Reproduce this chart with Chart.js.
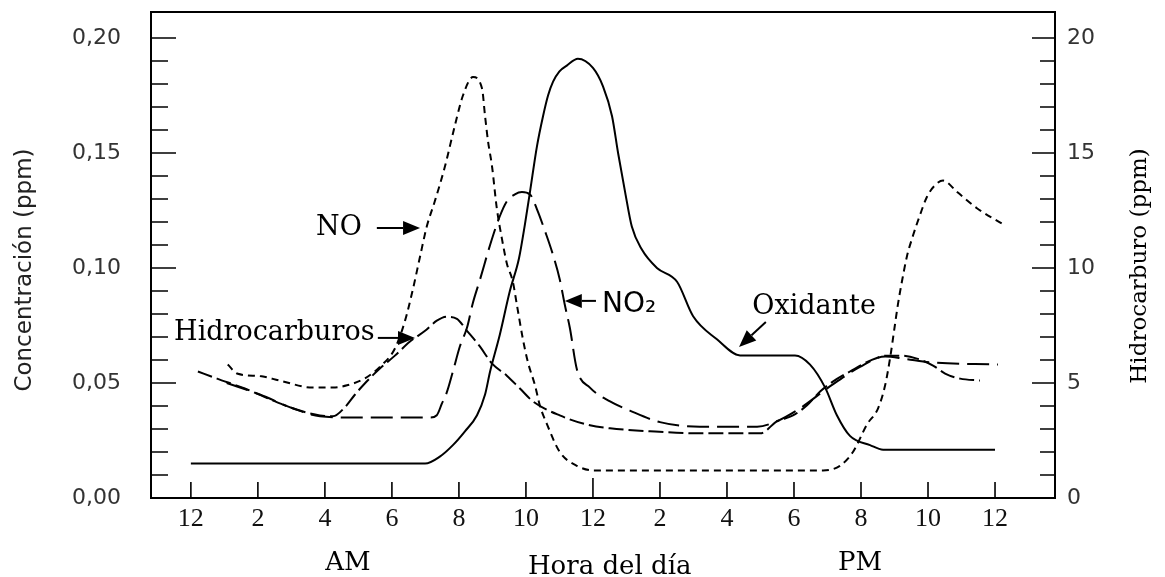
<!DOCTYPE html>
<html>
<head>
<meta charset="utf-8">
<script src="https://cdn.jsdelivr.net/npm/chart.js@4.4.0/dist/chart.umd.min.js"></script>
<style>
  html, body { margin: 0; padding: 0; background: #fff; }
  #wrap { width: 1165px; height: 577px; }
</style>
</head>
<body>
<div id="wrap"><canvas id="smogChart"></canvas></div>
<script>
// x = hours after midnight (0 = 12 AM, 24 = 12 midnight next day)
const xTickLabels = ['12', '2', '4', '6', '8', '10', '12', '2', '4', '6', '8', '10', '12'];

// Oxidante (ppm, left axis)
const oxHours  = [0, 6.99, 7.43, 7.82, 8.18, 8.54, 8.78, 8.93, 9.22, 9.52, 9.79, 9.97, 10.12, 10.33, 10.51, 10.66, 10.81, 11.00, 11.22, 11.55, 12.00, 12.30, 12.57, 12.75, 12.96, 13.16, 13.46, 13.91, 14.51, 14.99, 15.70, 16.39, 18.03, 18.48, 18.93, 19.28, 19.67, 20.27, 20.66, 24.00];
const oxValues = [0.015, 0.015, 0.018, 0.023, 0.029, 0.036, 0.045, 0.055, 0.071, 0.090, 0.104, 0.119, 0.133, 0.153, 0.166, 0.175, 0.181, 0.1855, 0.188, 0.191, 0.187, 0.179, 0.166, 0.150, 0.133, 0.118, 0.108, 0.100, 0.094, 0.079, 0.069, 0.062, 0.062, 0.058, 0.048, 0.036, 0.027, 0.023, 0.021, 0.021];

// NO (ppm, left axis)
const noHours  = [1.10, 1.40, 2.06, 2.66, 3.64, 4.24, 4.66, 5.19, 5.64, 6.09, 6.39, 6.63, 6.84, 7.04, 7.28, 7.58, 7.88, 8.12, 8.42, 8.69, 8.78, 8.87, 8.99, 9.13, 9.28, 9.43, 9.61, 9.73, 9.91, 10.06, 10.27, 10.42, 10.63, 11.01, 11.52, 12.00, 18.87, 19.37, 19.76, 20.18, 20.51, 20.72, 20.87, 21.01, 21.10, 21.22, 21.37, 21.55, 21.76, 21.97, 22.21, 22.45, 22.87, 23.46, 24.24];
const noValues = [0.058, 0.054, 0.053, 0.051, 0.048, 0.048, 0.049, 0.052, 0.057, 0.065, 0.077, 0.091, 0.105, 0.118, 0.129, 0.144, 0.162, 0.175, 0.183, 0.178, 0.166, 0.155, 0.144, 0.126, 0.113, 0.102, 0.094, 0.084, 0.069, 0.059, 0.049, 0.040, 0.032, 0.020, 0.014, 0.012, 0.012, 0.014, 0.020, 0.032, 0.039, 0.049, 0.061, 0.075, 0.084, 0.094, 0.105, 0.114, 0.123, 0.131, 0.136, 0.138, 0.133, 0.126, 0.119];

// NO2 (ppm, left axis)
const no2Hours  = [1.07, 2.06, 3.04, 3.85, 4.75, 6.24, 7.13, 7.34, 7.49, 7.64, 7.82, 8.03, 8.24, 8.42, 8.63, 8.93, 9.22, 9.43, 9.67, 9.88, 10.12, 10.33, 10.57, 10.78, 11.01, 11.16, 11.31, 11.52, 11.91, 12.51, 13.10, 14.00, 15.19, 16.90, 17.43, 18.18, 19.07, 19.97, 20.72, 21.31, 22.06, 24.09];
const no2Values = [0.050, 0.045, 0.039, 0.0355, 0.035, 0.035, 0.035, 0.036, 0.041, 0.046, 0.055, 0.066, 0.074, 0.085, 0.095, 0.110, 0.1225, 0.129, 0.132, 0.133, 0.132, 0.1255, 0.116, 0.107, 0.095, 0.084, 0.074, 0.056, 0.048, 0.042, 0.038, 0.033, 0.031, 0.031, 0.033, 0.039, 0.0485, 0.057, 0.0615, 0.0605, 0.059, 0.058];

// Hidrocarburos (ppm, right axis)
const hcHours  = [0.21, 0.78, 1.61, 2.30, 3.04, 3.85, 4.24, 4.60, 4.90, 5.19, 5.64, 6.09, 6.54, 6.99, 7.34, 7.64, 7.94, 8.24, 8.63, 8.99, 9.43, 9.82, 10.21, 11.01, 11.91, 12.51, 13.70, 15.19, 16.99, 17.49, 17.97, 18.39, 18.78, 19.16, 19.67, 20.27, 20.78, 21.16, 21.67, 22.15, 22.51, 22.96, 23.55];
const hcValues = [5.50, 5.19, 4.76, 4.33, 3.90, 3.59, 3.55, 3.95, 4.50, 4.98, 5.63, 6.19, 6.80, 7.27, 7.71, 7.88, 7.79, 7.27, 6.58, 5.84, 5.32, 4.76, 4.20, 3.59, 3.16, 3.03, 2.90, 2.81, 2.81, 3.33, 3.59, 4.03, 4.63, 5.06, 5.50, 5.97, 6.19, 6.19, 6.06, 5.76, 5.41, 5.19, 5.11];

function toPoints(xs, ys) {
  return xs.map((h, i) => ({ x: h, y: ys[i] }));
}

function isMultiple(v, step) {
  return Math.abs(v / step - Math.round(v / step)) < 1e-6;
}

function drawArrow(ctx, x1, y1, x2, y2) {
  const ang = Math.atan2(y2 - y1, x2 - x1);
  const head = 17, half = 7;
  const bx = x2 - head * Math.cos(ang), by = y2 - head * Math.sin(ang);
  ctx.beginPath();
  ctx.moveTo(x1, y1);
  ctx.lineTo(bx, by);
  ctx.stroke();
  ctx.beginPath();
  ctx.moveTo(x2, y2);
  ctx.lineTo(bx + half * Math.sin(ang), by - half * Math.cos(ang));
  ctx.lineTo(bx - half * Math.sin(ang), by + half * Math.cos(ang));
  ctx.closePath();
  ctx.fill();
}

// frame and inward tick marks
const frameTicks = {
  id: 'frameTicks',
  afterDraw(chart) {
    const ctx = chart.ctx;
    const a = chart.chartArea;
    const { x, y, y1 } = chart.scales;
    ctx.save();
    ctx.strokeStyle = '#000';
    ctx.lineWidth = 2;
    ctx.strokeRect(a.left, a.top, a.right - a.left, a.bottom - a.top);
    ctx.lineWidth = 1.6;
    ctx.beginPath();
    y.ticks.forEach(t => {
      const p = y.getPixelForValue(t.value);
      if (p < a.top + 5 || p > a.bottom - 2) return;
      ctx.moveTo(a.left, p);
      ctx.lineTo(a.left + (isMultiple(t.value, 0.05) ? 25 : 17), p);
    });
    y1.ticks.forEach(t => {
      const p = y1.getPixelForValue(t.value);
      if (p < a.top + 5 || p > a.bottom - 2) return;
      ctx.moveTo(a.right, p);
      ctx.lineTo(a.right - (isMultiple(t.value, 5) ? 23 : 15), p);
    });
    x.ticks.forEach(t => {
      const p = x.getPixelForValue(t.value);
      ctx.moveTo(p, a.bottom);
      ctx.lineTo(p, a.bottom - (t.value === 12 ? 20 : 16));
    });
    ctx.stroke();
    ctx.restore();
  }
};

// text notes, arrows and axis captions
const notes = {
  id: 'notes',
  afterDraw(chart) {
    const ctx = chart.ctx;
    const a = chart.chartArea;
    const { x, y } = chart.scales;
    const px = h => x.getPixelForValue(h);
    const py = v => y.getPixelForValue(v);
    ctx.save();
    ctx.fillStyle = '#000';
    ctx.strokeStyle = '#000';
    ctx.lineWidth = 2;
    ctx.textBaseline = 'middle';

    ctx.font = '27px "DejaVu Serif"';
    ctx.textAlign = 'center';
    ctx.fillText('NO', px(4.42), py(0.1174));
    drawArrow(ctx, px(5.55), py(0.1174), px(6.84), py(0.1174));
    ctx.fillText('Hidrocarburos', px(2.49), py(0.0717));
    drawArrow(ctx, px(5.58), py(0.0696), px(6.69), py(0.0696));
    ctx.fillText('Oxidante', px(18.6), py(0.083));
    drawArrow(ctx, px(17.16), py(0.0765), px(16.36), py(0.0657));

    ctx.font = '28px "DejaVu Sans"';
    ctx.textAlign = 'left';
    ctx.fillText('NO₂', px(12.27), py(0.0839));
    drawArrow(ctx, px(12.09), py(0.0857), px(11.16), py(0.0857));

    ctx.font = '26px "DejaVu Serif"';
    ctx.textAlign = 'center';
    ctx.fillText('AM', px(4.69), a.bottom + 65);
    ctx.fillText('Hora del día', px(12.5), a.bottom + 69);
    ctx.fillText('PM', px(19.97), a.bottom + 65);

    // axis titles, both reading bottom to top
    ctx.save();
    ctx.translate(25, (a.top + a.bottom) / 2 + 15);
    ctx.rotate(-Math.PI / 2);
    ctx.font = '23px "DejaVu Sans"';
    ctx.fillStyle = '#222';
    ctx.fillText('Concentración (ppm)', 0, 0);
    ctx.restore();

    ctx.save();
    ctx.translate(1140, (a.top + a.bottom) / 2 + 11);
    ctx.rotate(-Math.PI / 2);
    ctx.font = '23px "DejaVu Serif"';
    ctx.fillText('Hidrocarburo (ppm)', 0, 0);
    ctx.restore();

    ctx.restore();
  }
};

const lineStyle = {
  borderColor: '#000',
  borderWidth: 2,
  pointRadius: 0,
  fill: false,
  cubicInterpolationMode: 'monotone'
};

function fixVertical(width) {
  return s => { s.width = width; s.paddingTop = 0; s.paddingBottom = 0; };
}

new Chart(document.getElementById('smogChart'), {
  type: 'line',
  data: {
    datasets: [
      { ...lineStyle, label: 'Oxidante', data: toPoints(oxHours, oxValues), yAxisID: 'y' },
      { ...lineStyle, label: 'NO', data: toPoints(noHours, noValues), yAxisID: 'y', borderDash: [7, 5] },
      { ...lineStyle, label: 'NO2', data: toPoints(no2Hours, no2Values), yAxisID: 'y', borderDash: [22, 8] },
      { ...lineStyle, label: 'Hidrocarburos', data: toPoints(hcHours, hcValues), yAxisID: 'y1', borderDash: [15, 5] }
    ]
  },
  options: {
    responsive: true,
    maintainAspectRatio: false,
    animation: false,
    layout: { padding: { top: 12 } },
    plugins: {
      legend: { display: false },
      tooltip: { enabled: false }
    },
    scales: {
      x: {
        type: 'linear',
        min: -1.19,
        max: 25.79,
        grid: { display: false },
        border: { display: false },
        ticks: {
          stepSize: 2,
          includeBounds: false,
          autoSkip: false,
          maxRotation: 0,
          padding: -2,
          color: '#111',
          font: { family: 'Liberation Serif', size: 26 },
          callback: v => xTickLabels[Math.round(v / 2)]
        },
        afterFit: s => { s.height = 79; s.paddingLeft = 0; s.paddingRight = 0; }
      },
      y: {
        position: 'left',
        min: 0,
        max: 0.2113,
        grid: { display: false },
        border: { display: false },
        ticks: {
          stepSize: 0.01,
          includeBounds: false,
          autoSkip: false,
          padding: 22,
          color: '#333',
          font: { family: 'DejaVu Sans', size: 22 },
          callback: v => isMultiple(v, 0.05) ? v.toFixed(2).replace('.', ',') : ''
        },
        afterFit: fixVertical(151)
      },
      y1: {
        position: 'right',
        min: 0,
        max: 21.13,
        grid: { display: false },
        border: { display: false },
        ticks: {
          stepSize: 1,
          includeBounds: false,
          autoSkip: false,
          padding: 4,
          color: '#333',
          font: { family: 'DejaVu Sans', size: 22 },
          callback: v => isMultiple(v, 5) ? String(v) : ''
        },
        afterFit: fixVertical(110)
      }
    }
  },
  plugins: [frameTicks, notes]
});
</script>
</body>
</html>
